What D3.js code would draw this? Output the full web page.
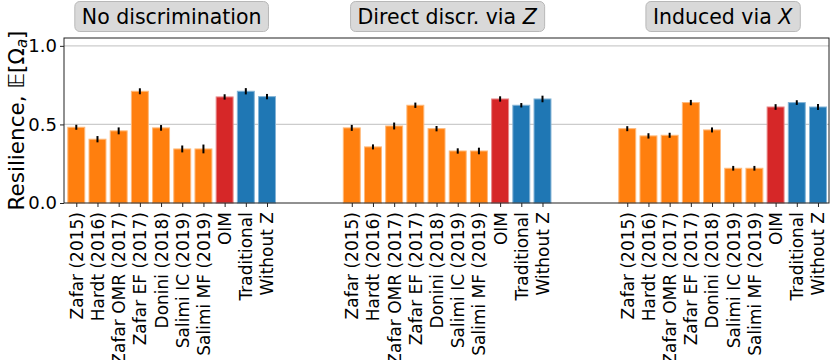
<!DOCTYPE html>
<html><head><meta charset="utf-8">
<script src="https://cdn.jsdelivr.net/npm/d3@7"></script>
<style>body{margin:0;background:#fff}svg{font-family:"DejaVu Sans",sans-serif}</style>
</head><body><svg id="c" width="830" height="360"></svg>
<script>
const methods = ["Zafar (2015)","Hardt (2016)","Zafar OMR (2017)","Zafar EF (2017)","Donini (2018)","Salimi IC (2019)","Salimi MF (2019)","OIM","Traditional","Without Z"];
const methodColors = ["#ff7f0e","#ff7f0e","#ff7f0e","#ff7f0e","#ff7f0e","#ff7f0e","#ff7f0e","#d62728","#1f77b4","#1f77b4"];
const panelTitles = ["No discrimination","Direct discr. via ","Induced via "];
const panelTitleVars = ["","Z","X"];
const noDiscrimination = [0.482,0.406,0.459,0.711,0.478,0.344,0.344,0.675,0.711,0.677];
const directViaZ = [0.478,0.357,0.490,0.622,0.473,0.331,0.331,0.662,0.622,0.662];
const inducedViaX = [0.473,0.427,0.431,0.639,0.465,0.221,0.221,0.611,0.639,0.611];
const errNoDiscrimination = [0.016,0.020,0.022,0.019,0.018,0.022,0.028,0.017,0.020,0.017];
const errDirectViaZ = [0.019,0.016,0.022,0.017,0.017,0.017,0.021,0.017,0.014,0.021];
const errInducedViaX = [0.016,0.017,0.016,0.017,0.016,0.015,0.015,0.018,0.015,0.019];
const yTicks = [0.0,0.5,1.0];

const panels = [noDiscrimination, directViaZ, inducedViaX];
const errs = [errNoDiscrimination, errDirectViaZ, errInducedViaX];
const gap = 3;
const data = [];
panels.forEach((vals,p)=>vals.forEach((v,i)=>data.push({pos:p*(methods.length+gap)+i, v, e:errs[p][i], name:methods[i], color:methodColors[i], p})));

const svg = d3.select("#c");
const L=64, R=829, T=38, B=203;
const x = d3.scaleLinear().domain([-0.58,35.52]).range([L,R]);
const y = d3.scaleLinear().domain([0,1.05]).range([B,T]);
const bw = x(0.8)-x(0);

// grid
svg.append("g").selectAll("line").data(yTicks.filter(t=>t>0)).join("line")
  .attr("x1",L).attr("x2",R).attr("y1",d=>y(d)).attr("y2",d=>y(d))
  .attr("stroke","#cccccc").attr("stroke-width",1.2);

// bars
svg.append("g").selectAll("rect").data(data).join("rect")
  .attr("x",d=>x(d.pos)-bw/2).attr("width",bw)
  .attr("y",d=>y(d.v)).attr("height",d=>y(0)-y(d.v))
  .attr("fill",d=>d.color)
  .attr("stroke",d=>d3.interpolateRgb(d.color,"#fff")(0.45)).attr("stroke-width",1);

// error bars
svg.append("g").selectAll("line").data(data).join("line")
  .attr("x1",d=>x(d.pos)).attr("x2",d=>x(d.pos))
  .attr("y1",d=>y(d.v-d.e)).attr("y2",d=>y(d.v+d.e))
  .attr("stroke","#000").attr("stroke-width",2);

// frame
svg.append("rect").attr("x",L).attr("y",T).attr("width",R-L).attr("height",B-T)
  .attr("fill","none").attr("stroke","#222").attr("stroke-width",1);

// y axis
const ya = svg.append("g").attr("transform",`translate(${L},0)`)
  .call(d3.axisLeft(y).tickValues(yTicks).tickFormat(d3.format(".1f")).tickSize(4).tickPadding(3));
ya.select(".domain").remove();
ya.selectAll("text").attr("font-size",18).attr("fill","#000").attr("font-family","DejaVu Sans");
ya.selectAll("line").attr("stroke","#222");

// x axis
const xa = svg.append("g").attr("transform",`translate(0,${B})`)
  .call(d3.axisBottom(x).tickValues(data.map(d=>d.pos)).tickFormat(d=>data.find(o=>o.pos===d).name).tickSize(4).tickPadding(4));
xa.select(".domain").remove();
xa.selectAll("line").attr("stroke","#222");
xa.selectAll("text").attr("font-size",17).attr("fill","#000").attr("font-family","DejaVu Sans")
  .attr("transform","rotate(-90)").attr("text-anchor","end")
  .attr("x",-9).attr("y",0).attr("dy","0.35em");

// y label
const yl = svg.append("text").attr("transform",`translate(24,${(T+B)/2}) rotate(-90)`)
  .attr("text-anchor","middle").attr("font-size",21.5).attr("fill","#000");
yl.append("tspan").text("Resilience, ");
yl.append("tspan").attr("font-style","italic").text("𝔼");
yl.append("tspan").text("[Ω");
yl.append("tspan").attr("font-size",15).attr("font-style","italic").attr("dy",3).text("a");
yl.append("tspan").attr("dy",-3).text("]");

// panel titles
panelTitles.forEach((t,p)=>{
  const cx = (x(p*(methods.length+gap)) + x(p*(methods.length+gap)+methods.length-1))/2;
  const g = svg.append("g");
  const rect = g.append("rect");
  const tx = g.append("text").attr("x",cx).attr("y",24).attr("text-anchor","middle")
    .attr("font-size",20.5).attr("fill","#000");
  tx.append("tspan").text(t);
  if(panelTitleVars[p]) tx.append("tspan").attr("font-style","italic").text(panelTitleVars[p]);
  const bb = tx.node().getBBox();
  rect.attr("x",bb.x-7).attr("y",1.5).attr("width",bb.width+14).attr("height",30)
    .attr("rx",5).attr("fill","#d9d9d9").attr("stroke","#b8b8b8").attr("stroke-width",1);
});
</script></body></html>
